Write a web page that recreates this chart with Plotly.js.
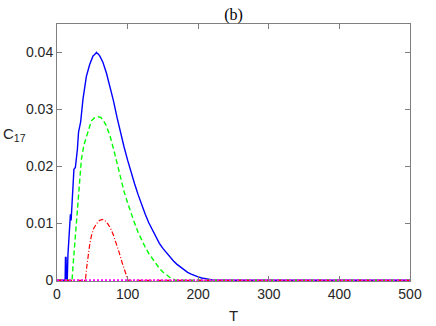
<!DOCTYPE html>
<html>
<head>
<meta charset="utf-8">
<script src="https://cdn.plot.ly/plotly-3.0.1.min.js"></script>
<style>html,body{margin:0;padding:0;background:#fff;}#chart{width:436px;height:326px;}</style>
</head>
<body>
<div id="chart"></div>
<script>
// Blue solid series
var tBlue = [0, 11.5, 12, 12.8, 13.5, 14.5, 15.5, 16.5, 18, 19, 20, 21, 22.7, 24, 26, 28.9, 30.5, 32.2, 33.5, 36.8, 41.6, 46.3, 48, 51, 53, 55, 56, 57, 58, 60.5, 65, 70, 75, 80, 85, 90, 95, 100, 105, 110, 115, 120, 125, 130, 135, 140, 145, 150, 155, 160, 165, 170, 175, 180, 185, 190, 195, 200, 205, 210, 215, 220, 225, 230, 500];
var cBlue = [0, 0, 0.004, 0.004, 0, 0, 0.0045, 0.007, 0.0095, 0.0116, 0.0105, 0.013, 0.016, 0.0195, 0.0198, 0.023, 0.026, 0.0271, 0.0278, 0.0318, 0.0358, 0.0379, 0.0386, 0.0394, 0.0396, 0.0399, 0.0400, 0.0398, 0.0398, 0.0394, 0.0383, 0.0364, 0.0341, 0.0315, 0.0286, 0.0259, 0.0234, 0.0211, 0.0189, 0.0169, 0.0150, 0.0132, 0.0116, 0.0101, 0.0088, 0.0076, 0.0065, 0.0056, 0.0048, 0.0040, 0.0034, 0.0028, 0.0023, 0.0018, 0.0014, 0.0011, 0.0008, 0.0006, 0.0004, 0.00025, 0.00015, 0.00008, 0.00003, 0, 0];
// Green dashed series
var tGreen = [0, 21.3, 23, 25, 27.5, 29.8, 32, 34.5, 38, 41.6, 45, 48.7, 53, 58, 62, 66, 70, 75, 80, 85, 90, 95, 100, 105, 110, 115, 120, 125, 130, 135, 140, 145, 150, 155, 160, 165, 168, 500];
var cGreen = [0, 0, 0.003, 0.006, 0.0105, 0.0148, 0.018, 0.0212, 0.0237, 0.0253, 0.0268, 0.0280, 0.0285, 0.0287, 0.0286, 0.0280, 0.0271, 0.0254, 0.0231, 0.0205, 0.0179, 0.0156, 0.0136, 0.0117, 0.0100, 0.0084, 0.0070, 0.0058, 0.0047, 0.0038, 0.0029, 0.0021, 0.00145, 0.0009, 0.0005, 0.0002, 0, 0];
// Red dash-dot series
var tRed = [0, 40.2, 42, 44, 46, 48.7, 52, 55.8, 60, 64, 68, 72, 76, 80, 84, 88, 92, 96, 100.6, 500];
var cRed = [0, 0, 0.0022, 0.0043, 0.0060, 0.0078, 0.0091, 0.0099, 0.0105, 0.0107, 0.0105, 0.0099, 0.0091, 0.0079, 0.0065, 0.0049, 0.0032, 0.0016, 0, 0];
// Magenta dotted series
var tMag = [0, 500];
var cMag = [0, 0];

var xTicks = [0, 100, 200, 300, 400, 500];
var yTicks = [0, 0.01, 0.02, 0.03, 0.04];
var yTickText = ['0', '0.01', '0.02', '0.03', '0.04'];

var traces = [
  {x: tBlue, y: cBlue, mode: 'lines', line: {color: '#0000ff', width: 1.4}},
  {x: tGreen, y: cGreen, mode: 'lines', line: {color: '#00ff00', width: 1.4, dash: '5px,3px'}},
  {x: tRed, y: cRed, mode: 'lines', line: {color: '#ff0000', width: 1.2, dash: '5px,2px,1px,2px'}},
  {x: tMag, y: cMag, mode: 'lines', line: {color: '#ff00ff', width: 2.2, dash: '2px,2px'}}
];

var axisCommon = {
  showline: true, mirror: 'ticks', linecolor: '#7f7f7f', linewidth: 1,
  ticks: 'inside', ticklen: 5, tickcolor: '#7f7f7f', showgrid: false, zeroline: false,
  tickfont: {family: 'Liberation Sans, Arial, sans-serif', size: 14, color: '#262626'}
};

var layout = {
  width: 436, height: 326,
  margin: {l: 57, r: 26, t: 24, b: 45},
  paper_bgcolor: '#ffffff', plot_bgcolor: '#ffffff',
  showlegend: false,
  title: {text: '(b)', x: 0.5, xref: 'paper', xanchor: 'center', y: 0.955, yref: 'container', yanchor: 'middle',
          font: {family: 'Liberation Serif', size: 16, color: '#000000'}},
  xaxis: Object.assign({}, axisCommon, {range: [0, 500], tickvals: xTicks, ticktext: xTicks.map(String)}),
  yaxis: Object.assign({}, axisCommon, {range: [-0.00012, 0.045], tickvals: yTicks, ticktext: yTickText}),
  annotations: [
    {text: 'C<sub>17</sub>', xref: 'paper', yref: 'paper', x: -0.12, y: 0.57, xanchor: 'center', yanchor: 'middle', showarrow: false,
     font: {family: 'Liberation Sans, Arial, sans-serif', size: 15, color: '#262626'}},
    {text: 'T', xref: 'paper', yref: 'paper', x: 0.5, y: -0.135, xanchor: 'center', yanchor: 'middle', showarrow: false,
     font: {family: 'Liberation Sans, Arial, sans-serif', size: 15, color: '#262626'}}
  ]
};

Plotly.newPlot('chart', traces, layout, {displayModeBar: false, staticPlot: true});
</script>
</body>
</html>
